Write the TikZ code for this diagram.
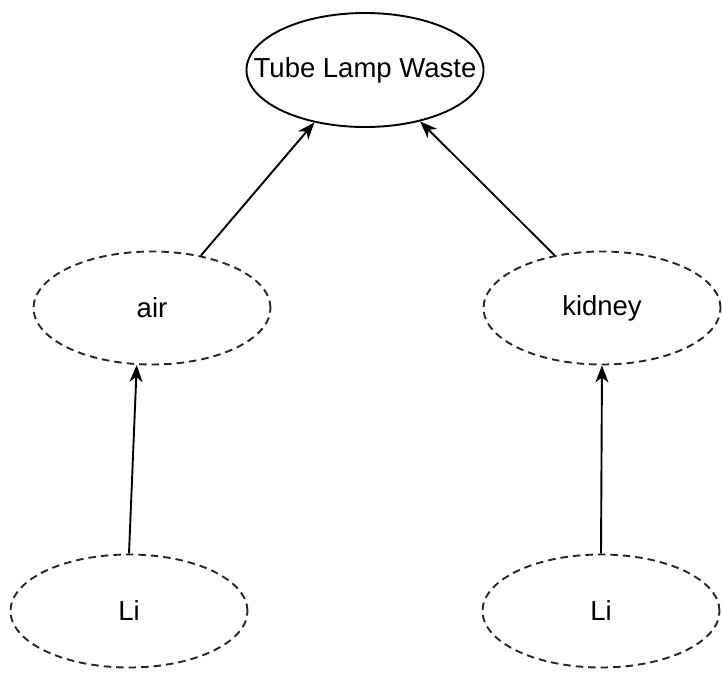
\documentclass[tikz,border=0pt]{standalone}
\usepackage{fontspec}
\setmainfont{Liberation Sans}
\usetikzlibrary{shapes.geometric,arrows.meta}
\newcommand{\ctext}[1]{\makebox[0pt][c]{#1}}
\begin{document}
\begin{tikzpicture}[x=1pt,y=-1pt,
  base/.style={ellipse,minimum width=237pt,minimum height=113pt,inner sep=0pt,
     font=\fontsize{27.5}{30}\selectfont,text=black,line width=1.9pt},
  solidbox/.style={base,draw=black,minimum height=114pt},
  dashbox/.style={base,draw=black!85,dash pattern=on 7.5pt off 5pt},
  conn/.style={line width=1.9pt,draw=black,-{Stealth[length=17pt,width=13pt,inset=5pt]}}]
\useasboundingbox (0,0) rectangle (722,675);
\node[solidbox] (top) at (365,70) {\ctext{Tube Lamp Waste}};
\node[dashbox] (air) at (152,308) {\ctext{air}};
\node[dashbox] (kid) at (602,308) {\ctext{kidney}};
\node[dashbox] (li1) at (129,611) {\ctext{Li}};
\node[dashbox] (li2) at (601,611) {\ctext{Li}};
\draw[conn] (air.47) -- (top.226);
\draw[conn] (kid.132) -- (top.317);
\draw[conn] (li1.north) -- (air.255);
\draw[conn] (li2.north) -- (kid.south);
\end{tikzpicture}
\end{document}
